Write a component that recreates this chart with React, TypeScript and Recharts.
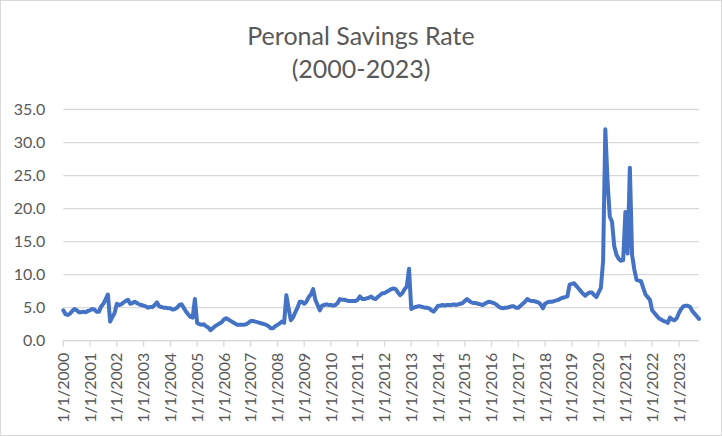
import React from 'react';
import { LineChart, Line, XAxis, YAxis, CartesianGrid } from 'recharts';

// monthly personal savings rate (%)
const y2000 = [4.6, 4.0, 3.9, 4.1, 4.5, 4.8, 4.6, 4.3, 4.3, 4.4, 4.3, 4.5];
const y2001 = [4.6, 4.8, 4.7, 4.4, 4.4, 5.2, 5.6, 6.3, 7.0, 2.9, 3.6, 4.2];
const y2002 = [5.6, 5.4, 5.5, 5.8, 6.0, 6.2, 5.6, 5.7, 5.9, 5.7, 5.5, 5.4];
const y2003 = [5.3, 5.2, 5.0, 5.1, 5.1, 5.4, 5.8, 5.2, 5.1, 5.0, 5.0, 4.9];
const y2004 = [4.9, 4.7, 4.8, 5.0, 5.4, 5.5, 5.0, 4.4, 4.0, 3.6, 3.5, 6.3];
const y2005 = [2.7, 2.5, 2.4, 2.5, 2.2, 2.0, 1.6, 1.9, 2.2, 2.4, 2.6, 2.8];
const y2006 = [3.2, 3.4, 3.2, 3.0, 2.8, 2.6, 2.4, 2.4, 2.4, 2.4, 2.5, 2.7];
const y2007 = [3.0, 3.0, 2.9, 2.8, 2.7, 2.6, 2.5, 2.4, 2.2, 1.9, 1.9, 2.2];
const y2008 = [2.4, 2.6, 2.9, 2.7, 6.9, 4.9, 3.1, 3.5, 4.3, 5.0, 5.9, 5.9];
const y2009 = [5.6, 5.9, 6.6, 7.0, 7.8, 6.2, 5.4, 4.6, 5.3, 5.4, 5.5, 5.4];
const y2010 = [5.4, 5.3, 5.4, 5.7, 6.3, 6.2, 6.2, 6.1, 6.0, 6.0, 6.0, 6.0];
const y2011 = [6.2, 6.7, 6.3, 6.3, 6.4, 6.5, 6.7, 6.4, 6.3, 6.6, 6.9, 7.2];
const y2012 = [7.2, 7.4, 7.6, 7.8, 7.9, 7.8, 7.3, 6.9, 7.2, 7.8, 8.2, 10.9];
const y2013 = [4.8, 5.0, 5.1, 5.2, 5.2, 5.1, 5.0, 5.0, 4.9, 4.6, 4.4, 4.8];
const y2014 = [5.3, 5.3, 5.4, 5.3, 5.4, 5.4, 5.4, 5.5, 5.4, 5.5, 5.6, 5.7];
const y2015 = [6.0, 6.3, 6.0, 5.8, 5.7, 5.7, 5.6, 5.5, 5.4, 5.6, 5.8, 5.9];
const y2016 = [5.8, 5.7, 5.5, 5.2, 5.0, 4.9, 5.0, 5.0, 5.1, 5.2, 5.2, 5.0];
const y2017 = [5.0, 5.3, 5.6, 5.9, 6.3, 6.1, 6.0, 6.0, 5.9, 5.8, 5.5, 4.9];
const y2018 = [5.6, 5.8, 5.9, 5.9, 6.0, 6.1, 6.2, 6.4, 6.5, 6.6, 6.7, 8.5];
const y2019 = [8.6, 8.7, 8.3, 7.9, 7.5, 7.1, 6.8, 7.1, 7.3, 7.3, 6.9, 6.6];
const y2020 = [7.3, 8.0, 12.0, 32.0, 24.2, 18.8, 18.0, 14.3, 13.0, 12.4, 12.1, 12.2];
const y2021 = [19.5, 13.2, 26.2, 13.0, 10.8, 9.2, 9.1, 9.0, 8.0, 7.0, 6.6, 6.2];
const y2022 = [4.6, 4.2, 3.8, 3.4, 3.2, 3.0, 2.9, 2.7, 3.5, 3.2, 3.1, 3.4];
const y2023 = [4.2, 4.8, 5.2, 5.3, 5.3, 5.1, 4.5, 4.1, 3.7, 3.3];

const years = [
  y2000, y2001, y2002, y2003, y2004, y2005, y2006, y2007, y2008, y2009, y2010, y2011,
  y2012, y2013, y2014, y2015, y2016, y2017, y2018, y2019, y2020, y2021, y2022, y2023,
];
const firstYear = 2000;
const yTicks = [0, 5, 10, 15, 20, 25, 30, 35];

const data = years.flatMap((vals, i) =>
  vals.map((rate, m) => ({ date: `${m + 1}/1/${firstYear + i}`, rate }))
);

const TEXT = '#595959';
const GRID = '#d9d9d9';
const FONT = 'Lato, "Open Sans", sans-serif';

const DateTick = (props: any) => {
  const { x, y, payload } = props;
  return (
    <g transform={`translate(${x},${y})`}>
      <text
        transform="rotate(-90)"
        textAnchor="end"
        dy="0.35em"
        fill={TEXT}
        fontSize={16}
        fontFamily={FONT}
      >
        {payload.value}
      </text>
    </g>
  );
};

export default function App() {
  return (
    <div style={{ position: 'absolute', left: 0, top: 0, width: 722, height: 436, background: '#fff' }}>
      <div
        style={{
          position: 'absolute',
          left: 0,
          top: 19,
          width: 722,
          textAlign: 'center',
          fontFamily: FONT,
          fontSize: 25,
          lineHeight: '33px',
          color: TEXT,
        }}
      >
        Peronal Savings Rate
        <br />
        (2000-2023)
      </div>
      <LineChart
        width={722}
        height={436}
        data={data}
        margin={{ top: 109.5, right: 23, left: 0, bottom: 0 }}
      >
        <CartesianGrid vertical={false} stroke={GRID} strokeWidth={1.3} />
        <XAxis
          dataKey="date"
          interval={11}
          height={95.3}
          stroke={GRID}
          strokeWidth={1.3}
          tickSize={6}
          tickMargin={6}
          tick={<DateTick />}
        />
        <YAxis
          width={63.3}
          domain={[0, 35]}
          ticks={yTicks}
          axisLine={false}
          tickLine={false}
          tickSize={0}
          tickMargin={18}
          tickFormatter={(v: number) => v.toFixed(1)}
          tick={{ fill: TEXT, fontSize: 16, fontFamily: FONT }}
        />
        <Line
          type="linear"
          dataKey="rate"
          stroke="#4472c4"
          strokeWidth={4}
          strokeLinejoin="round"
          strokeLinecap="round"
          dot={false}
          isAnimationActive={false}
        />
      </LineChart>
      <div
        style={{
          position: 'absolute',
          inset: 0,
          border: `1.5px solid ${GRID}`,
          pointerEvents: 'none',
        }}
      />
    </div>
  );
}
